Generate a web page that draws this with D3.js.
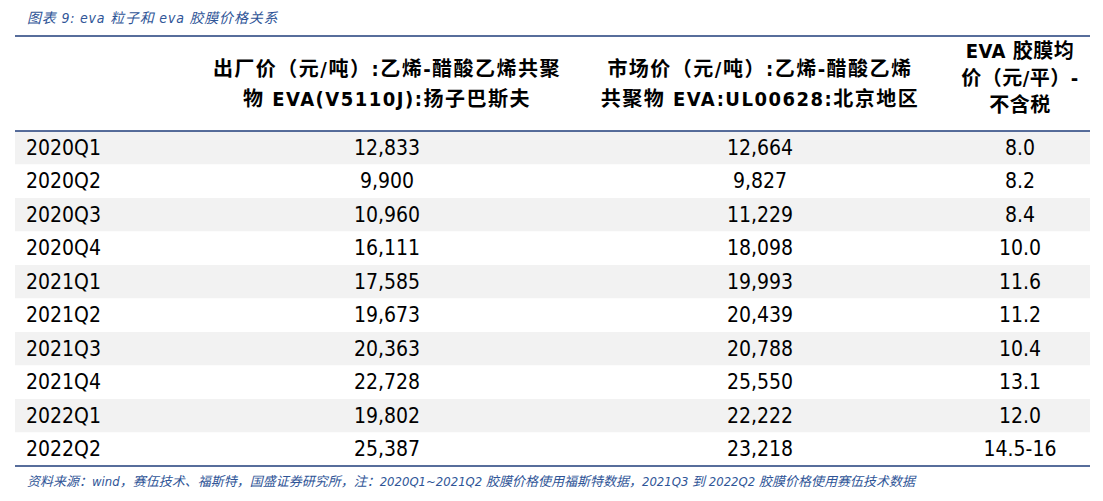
<!DOCTYPE html>
<html><head><meta charset="utf-8">
<script src="https://cdn.jsdelivr.net/npm/d3@7"></script>
<style>body{margin:0;background:#fff}</style>
</head><body>
<svg id="c" width="1103" height="501"></svg>
<script>
const quarters = ['2020Q1','2020Q2','2020Q3','2020Q4','2021Q1','2021Q2','2021Q3','2021Q4','2022Q1','2022Q2'];
const factoryPrice = ['12,833','9,900','10,960','16,111','17,585','19,673','20,363','22,728','19,802','25,387'];
const marketPrice = ['12,664','9,827','11,229','18,098','19,993','20,439','20,788','25,550','22,222','23,218'];
const filmPrice = ['8.0','8.2','8.4','10.0','11.6','11.2','10.4','13.1','12.0','14.5-16'];
const headers = [
  ['出厂价（元/吨）:乙烯-醋酸乙烯共聚', '物 EVA(V5110J):扬子巴斯夫'],
  ['市场价（元/吨）:乙烯-醋酸乙烯', '共聚物 EVA:UL00628:北京地区'],
  ['EVA 胶膜均', '价（元/平）-', '不含税']
];

const svg = d3.select('#c');
const font = '"DejaVu Sans Condensed","DejaVu Sans","Noto Sans CJK SC",sans-serif';
const blue = '#1f3d7a';

svg.append('text').attr('x', 27).attr('y', 23)
  .attr('font-family', font).attr('font-size', 14).attr('font-style', 'italic')
  .attr('letter-spacing', 0.8)
  .attr('fill', '#2f5597').text('图表 9:  eva 粒子和 eva 胶膜价格关系');

const y = d3.scaleBand().domain(quarters).range([131, 466]);
const colX = [387, 760, 1020];

svg.selectAll('rect.row').data(quarters).enter().append('rect')
  .attr('x', 15).attr('width', 1075)
  .attr('y', d => y(d)).attr('height', y.bandwidth())
  .attr('fill', (d, i) => i % 2 === 0 ? '#f2f2f2' : '#fff');

[36, 131, 466].forEach(v => svg.append('line').attr('x1', 15).attr('x2', 1090)
  .attr('y1', v).attr('y2', v).attr('stroke', blue).attr('stroke-width', 1.5));

headers.forEach((h, i) => {
  const top = h.length === 3 ? 58 : 76;
  const lh = h.length === 3 ? 27 : 30;
  h.forEach((t, j) => svg.append('text').attr('x', colX[i]).attr('y', top + j * lh)
    .attr('text-anchor', 'middle').attr('font-family', font)
    .attr('font-size', 20).attr('letter-spacing', i === 2 ? 0.5 : 1.5)
    .attr('font-weight', 'bold').attr('fill', '#000').text(t));
});

const cols = [factoryPrice, marketPrice, filmPrice];
quarters.forEach((q, i) => {
  const cy = y(q) + y.bandwidth() / 2 + 7;
  svg.append('text').attr('x', 26).attr('y', cy).attr('font-family', font)
    .attr('font-size', 21).text(q);
  cols.forEach((c, k) => svg.append('text').attr('x', colX[k]).attr('y', cy)
    .attr('text-anchor', 'middle').attr('font-family', font).attr('font-size', 21).text(c[i]));
});

svg.append('text').attr('x', 27).attr('y', 486)
  .attr('font-family', font).attr('font-size', 13).attr('font-style', 'italic')
  .attr('fill', '#2f5597')
  .text('资料来源：wind，赛伍技术、福斯特，国盛证券研究所，注：2020Q1~2021Q2 胶膜价格使用福斯特数据，2021Q3 到 2022Q2 胶膜价格使用赛伍技术数据');
</script>
</body></html>
